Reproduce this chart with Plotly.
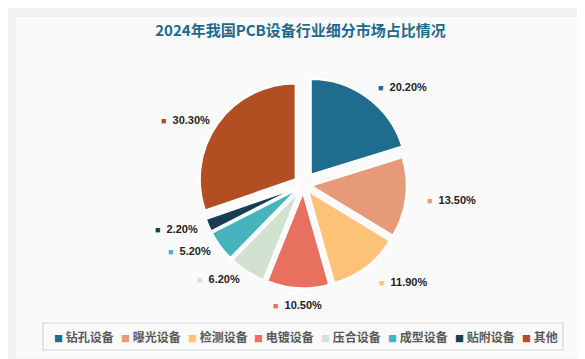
import math
import plotly.graph_objects as go

categories = ["钻孔设备", "曝光设备", "检测设备", "电镀设备", "压合设备", "成型设备", "贴附设备", "其他"]
shares = [20.2, 13.5, 11.9, 10.5, 6.2, 5.2, 2.2, 30.3]
colors = ["#1E6D8F", "#E79A7A", "#FFC278", "#E8705F", "#D2E2D0", "#46B3BF", "#163F55", "#B14E22"]
pulls = [0.13, 0.08, 0.08, 0.08, 0.08, 0.08, 0.08, 0.10]
title = "2024年我国PCB设备行业细分市场占比情况"

W, H = 585, 359
dom_x = [0.32, 0.69]
dom_y = [0.205, 0.81]

fig = go.Figure(go.Pie(
    labels=categories,
    values=shares,
    textinfo="none",
    sort=False,
    direction="clockwise",
    rotation=0,
    pull=pulls,
    marker=dict(colors=colors, line=dict(color="white", width=2)),
    domain=dict(x=dom_x, y=dom_y),
    hoverinfo="label+percent",
    showlegend=False,
))

annotations = []

# data labels placed at each slice's mid-angle (derived from the shares)
cx = (dom_x[0] + dom_x[1]) / 2 * W
cy = (1 - (dom_y[0] + dom_y[1]) / 2) * H
total = sum(shares)
cum = 0.0
for v, col in zip(shares, colors):
    mid = (cum + v / 2) / total * 2 * math.pi
    cum += v
    s, c = math.sin(mid), math.cos(mid)
    if s > 0.3:
        r, anchor = 122, "left"
    elif s < -0.3:
        r, anchor = 112, "right"
    else:
        r, anchor = 120, "center"
    px = cx + r * s
    py = cy - r * c
    annotations.append(dict(
        xref="paper", yref="paper", x=px / W, y=1 - py / H,
        xanchor=anchor, yanchor="middle", showarrow=False,
        text=f"<span style='color:{col};font-size:9px'>■</span>  <b>{v:.2f}%</b>",
        font=dict(family="Liberation Sans, Arial", size=11, color="#222222"),
    ))

# custom legend (horizontal, boxed) built from the category list
box_x0, box_x1 = 35 / W, 555 / W
box_y0, box_y1 = 1 - 342 / H, 1 - 315 / H
leg_y = (box_y0 + box_y1) / 2
start, step = 44 / W, 66.8 / W
for i, (name, col) in enumerate(zip(categories, colors)):
    annotations.append(dict(
        xref="paper", yref="paper", x=start + i * step, y=leg_y,
        xanchor="left", yanchor="middle", showarrow=False,
        text=f"<span style='color:{col};font-size:9px'>■</span> <b>{name}</b>",
        font=dict(family="Noto Sans CJK SC", size=12, color="#595959"),
    ))

fig.update_layout(
    width=W, height=H,
    margin=dict(l=0, r=0, t=0, b=0),
    paper_bgcolor="#F2F2F2",
    title=dict(text=f"<b>{title}</b>", x=0.5, xanchor="center", y=0.938, yanchor="middle",
               font=dict(family="Noto Sans CJK SC", size=15, color="#1E6A8D")),
    showlegend=False,
    annotations=annotations,
    shapes=[
        dict(type="rect", xref="paper", yref="paper", x0=0.014, x1=0.986, y0=0.025, y1=0.975,
             fillcolor="#FAFAFA", line=dict(width=0), layer="below"),
        dict(type="rect", xref="paper", yref="paper", x0=box_x0, x1=box_x1, y0=box_y0, y1=box_y1,
             fillcolor="rgba(0,0,0,0)", line=dict(color="#D6D6D6", width=1.2), layer="below"),
    ],
)

fig.write_html("out.html")
